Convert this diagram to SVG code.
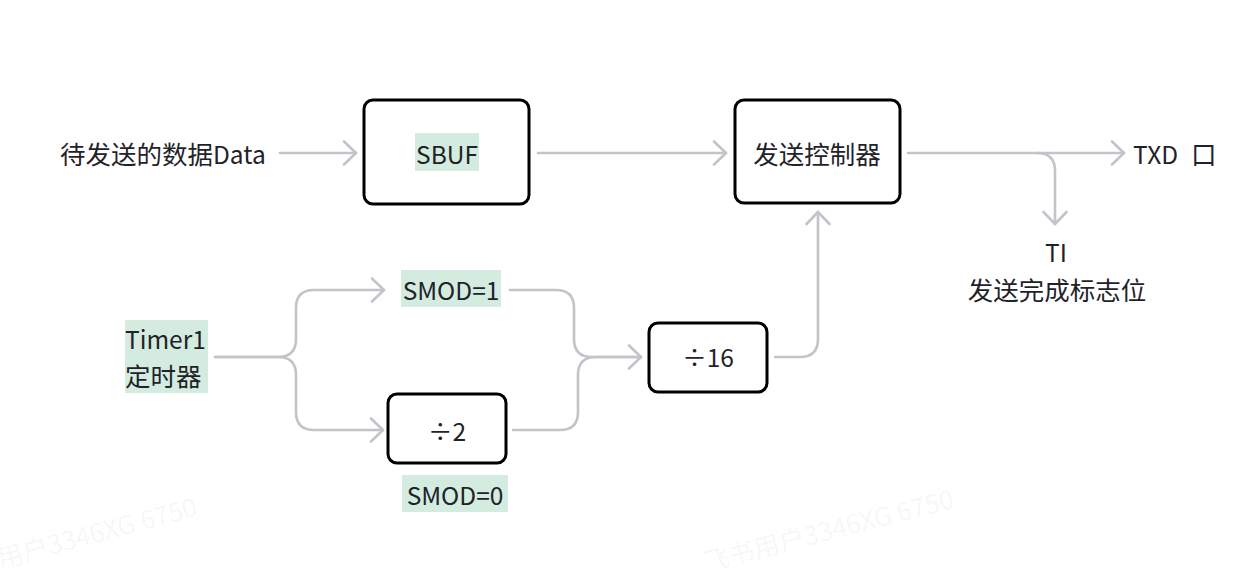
<svg xmlns="http://www.w3.org/2000/svg" width="1236" height="579" viewBox="0 0 1236 579">
<style>
.t{font-family:"Noto Sans CJK SC","Noto Sans",sans-serif;font-size:24.5px;fill:#1f2329}
.cj{font-size:25.5px}
.m{text-anchor:middle}
.box{fill:#fff;stroke:#000;stroke-width:3}
.hl{fill:#d4ecdf}
.c{fill:none;stroke:#c2c4c9;stroke-width:2.6;stroke-linecap:round;stroke-linejoin:round}
.wm{font-family:"Noto Sans CJK SC","Noto Sans",sans-serif;font-size:26px;fill:#000;fill-opacity:0.05}
</style>
<defs>
<marker id="arr" viewBox="-16 -14 19 28" refX="0" refY="0" markerWidth="19" markerHeight="28" orient="auto" markerUnits="userSpaceOnUse">
<path d="M-12,-11.5 L0,0 L-12,11.5" fill="none" stroke="#c2c4c9" stroke-width="2.6" stroke-linecap="round" stroke-linejoin="round"/>
</marker>
</defs>
<rect width="1236" height="579" fill="#fff"/>
<g id="watermarks">
<text class="wm" transform="translate(-50,582) rotate(-15)">飞书用户3346XG 6750</text>
<text class="wm" transform="translate(706,572) rotate(-14.5)">飞书用户3346XG 6750</text>
</g>
<g id="connectors">
<path class="c" d="M280,153 H356" marker-end="url(#arr)"/>
<path class="c" d="M538,153 H726" marker-end="url(#arr)"/>
<path class="c" d="M908,153 H1124" marker-end="url(#arr)"/>
<path class="c" d="M1037,153 Q1055,153 1055,171 V224" marker-end="url(#arr)"/>
<path class="c" d="M215,357 H278 Q296,357 296,339 V308 Q296,290 314,290 H384" marker-end="url(#arr)"/>
<path class="c" d="M215,357 H278 Q296,357 296,375 V412 Q296,430 314,430 H383" marker-end="url(#arr)"/>
<path class="c" d="M510,290 H556 Q574,290 574,308 V339 Q574,357 592,357 H641" marker-end="url(#arr)"/>
<path class="c" d="M513,430 H560 Q578,430 578,412 V375 Q578,357 596,357 H641"/>
<path class="c" d="M775,357 H800 Q818,357 818,339 V212" marker-end="url(#arr)"/>
</g>
<g id="data-label">
<text class="t" x="60" y="164"><tspan class="cj">待发送的数据</tspan>Data</text>
</g>
<g id="sbuf">
<rect class="box" x="364" y="100" width="165" height="104" rx="9"/>
<rect class="hl" x="415" y="133" width="64" height="38"/>
<text class="t m" x="447" y="164">SBUF</text>
</g>
<g id="controller">
<rect class="box" x="735" y="100" width="165" height="103" rx="9"/>
<text class="t cj m" x="817" y="164">发送控制器</text>
</g>
<g id="txd">
<text class="t" x="1133" y="164">TXD<tspan class="cj" x="1191">口</tspan></text>
</g>
<g id="ti">
<text class="t m" x="1056" y="262">TI</text>
<text class="t cj m" x="1057" y="300">发送完成标志位</text>
</g>
<g id="timer1">
<rect class="hl" x="125" y="320" width="83" height="73"/>
<text class="t" x="125" y="349">Timer1</text>
<text class="t cj" x="125" y="386">定时器</text>
</g>
<g id="smod1">
<rect class="hl" x="401" y="270" width="100" height="37"/>
<text class="t m" x="451" y="300">SMOD=1</text>
</g>
<g id="div2">
<rect class="box" x="388" y="394" width="118" height="69" rx="9"/>
<text class="t m" x="447" y="441">÷2</text>
</g>
<g id="smod0">
<rect class="hl" x="402" y="475" width="106" height="37"/>
<text class="t m" x="455" y="505">SMOD=0</text>
</g>
<g id="div16">
<rect class="box" x="649" y="323" width="118" height="69" rx="9"/>
<text class="t m" x="708" y="367">÷16</text>
</g>
</svg>
